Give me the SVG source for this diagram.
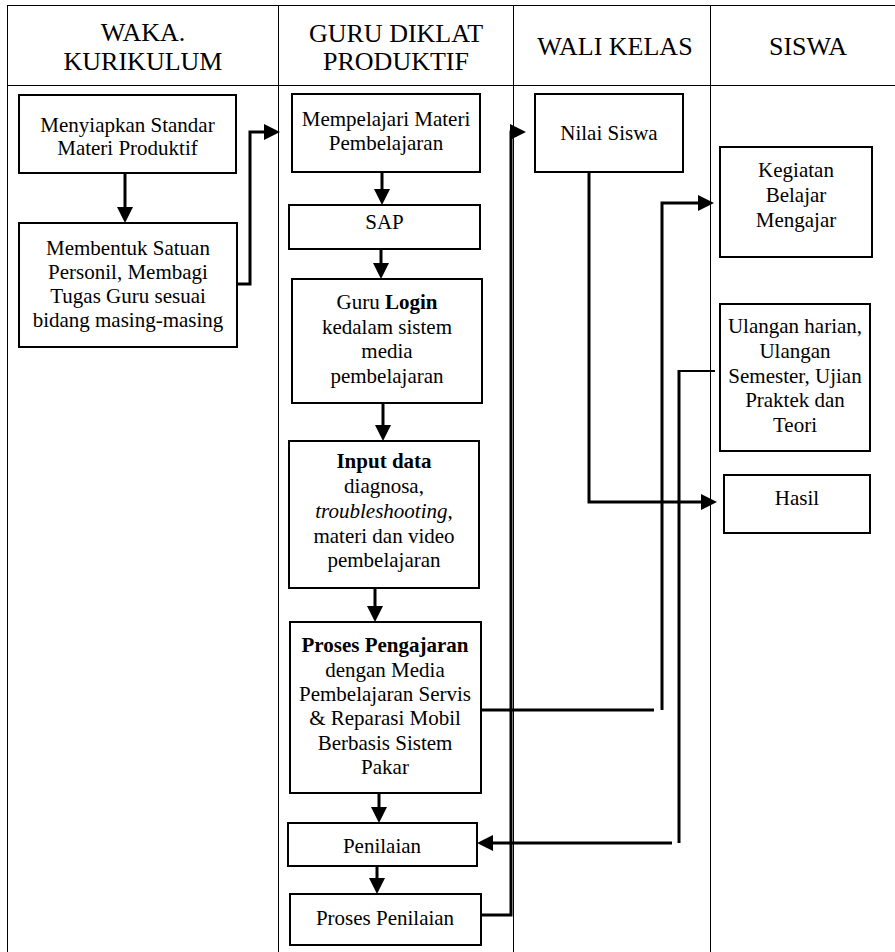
<svg xmlns="http://www.w3.org/2000/svg" width="895" height="952" viewBox="0 0 895 952">
  <style>
    .grid { stroke: #000; stroke-width: 1; fill: none; }
    .box { fill: #fff; stroke: #000; stroke-width: 2; }
    .hd { font-family: "Liberation Serif", "Times New Roman", serif; font-size: 26px; fill: #000; text-anchor: middle; }
    .tx { font-family: "Liberation Serif", "Times New Roman", serif; font-size: 21px; fill: #000; text-anchor: middle; }
    .b { font-weight: bold; }
    .i { font-style: italic; }
    .con { fill: none; stroke: #000; stroke-width: 3; }
    .thin { stroke-width: 2.2; }
  </style>
  <defs>
    <marker id="arr" markerUnits="userSpaceOnUse" markerWidth="16" markerHeight="16" refX="6" refY="8" orient="auto">
      <path d="M0,0 L16,8 L0,16 Z" fill="#000"/>
    </marker>
  </defs>

  <!-- swimlane table -->
  <g id="table">
    <path class="grid" d="M7.5,5.5 H895 M7.5,85.5 H895 M7.5,5 V952 M278.5,5 V952 M513.5,5 V952 M710.5,5 V952"/>
    <text class="hd" x="143" y="41">WAKA.</text>
    <text class="hd" x="143" y="70">KURIKULUM</text>
    <text class="hd" x="396" y="42">GURU DIKLAT</text>
    <text class="hd" x="396" y="70">PRODUKTIF</text>
    <text class="hd" x="615" y="55">WALI KELAS</text>
    <text class="hd" x="808" y="55">SISWA</text>
  </g>

  <!-- connectors -->
  <g id="connectors">
    <path class="con" d="M125,173 V213" marker-end="url(#arr)"/>
    <path class="con" d="M237,284 H250 V132 H270" marker-end="url(#arr)"/>
    <path class="con" d="M382,172 V195" marker-end="url(#arr)"/>
    <path class="con" d="M381,249 V269" marker-end="url(#arr)"/>
    <path class="con" d="M383,403 V431" marker-end="url(#arr)"/>
    <path class="con" d="M375,588 V612" marker-end="url(#arr)"/>
    <path class="con" d="M379,793 V813" marker-end="url(#arr)"/>
    <path class="con" d="M377,866 V884" marker-end="url(#arr)"/>
    <path class="con" d="M481,915 H511 V132 H516" marker-end="url(#arr)"/>
    <path class="con" d="M589,172 V502 H707" marker-end="url(#arr)"/>
    <path class="con" d="M481,710 H654"/>
    <path class="con" d="M662,710 V203 H704" marker-end="url(#arr)"/>
    <path class="con thin" d="M715,371 H679"/>
    <path class="con" d="M679,370 V843"/>
    <path class="con" d="M672,843 H487" marker-end="url(#arr)"/>
  </g>

  <!-- WAKA. KURIKULUM lane -->
  <g id="n-standar">
    <rect class="box" x="19" y="95" width="217" height="78"/>
    <text class="tx" x="127.5" y="132">Menyiapkan Standar</text>
    <text class="tx" x="127.5" y="155">Materi Produktif</text>
  </g>
  <g id="n-satuan">
    <rect class="box" x="19" y="223" width="218" height="124"/>
    <text class="tx" x="128" y="255">Membentuk Satuan</text>
    <text class="tx" x="128" y="279">Personil, Membagi</text>
    <text class="tx" x="128" y="303">Tugas Guru sesuai</text>
    <text class="tx" x="128" y="327">bidang masing-masing</text>
  </g>

  <!-- GURU DIKLAT PRODUKTIF lane -->
  <g id="n-mempelajari">
    <rect class="box" x="292" y="94" width="188" height="78"/>
    <text class="tx" x="386" y="126">Mempelajari Materi</text>
    <text class="tx" x="386" y="150">Pembelajaran</text>
  </g>
  <g id="n-sap">
    <rect class="box" x="289" y="205" width="191" height="44"/>
    <text class="tx" x="384.5" y="229">SAP</text>
  </g>
  <g id="n-login">
    <rect class="box" x="292" y="279" width="190" height="124"/>
    <text class="tx" x="387" y="309">Guru <tspan class="b">Login</tspan></text>
    <text class="tx" x="387" y="334">kedalam sistem</text>
    <text class="tx" x="387" y="358">media</text>
    <text class="tx" x="387" y="383">pembelajaran</text>
  </g>
  <g id="n-input">
    <rect class="box" x="289" y="441" width="190" height="147"/>
    <text class="tx b" x="384" y="468">Input data</text>
    <text class="tx" x="384" y="493">diagnosa,</text>
    <text class="tx" x="384" y="518"><tspan class="i">troubleshooting</tspan>,</text>
    <text class="tx" x="384" y="543">materi dan video</text>
    <text class="tx" x="384" y="567">pembelajaran</text>
  </g>
  <g id="n-pengajaran">
    <rect class="box" x="290" y="622" width="191" height="171"/>
    <text class="tx b" x="385" y="652">Proses Pengajaran</text>
    <text class="tx" x="385" y="677">dengan Media</text>
    <text class="tx" x="385" y="701">Pembelajaran Servis</text>
    <text class="tx" x="385" y="725">&amp; Reparasi Mobil</text>
    <text class="tx" x="385" y="750">Berbasis Sistem</text>
    <text class="tx" x="385" y="774">Pakar</text>
  </g>
  <g id="n-penilaian">
    <rect class="box" x="288" y="823" width="189" height="43"/>
    <text class="tx" x="382" y="853">Penilaian</text>
  </g>
  <g id="n-proses-penilaian">
    <rect class="box" x="290" y="894" width="191" height="51"/>
    <text class="tx" x="385" y="925">Proses Penilaian</text>
  </g>

  <!-- WALI KELAS lane -->
  <g id="n-nilai">
    <rect class="box" x="535" y="94" width="148" height="78"/>
    <text class="tx" x="609" y="140">Nilai Siswa</text>
  </g>

  <!-- SISWA lane -->
  <g id="n-kbm">
    <rect class="box" x="720" y="147" width="152" height="110"/>
    <text class="tx" x="796" y="177">Kegiatan</text>
    <text class="tx" x="796" y="202">Belajar</text>
    <text class="tx" x="796" y="227">Mengajar</text>
  </g>
  <g id="n-ulangan">
    <rect class="box" x="720" y="304" width="150" height="147"/>
    <text class="tx" x="795" y="333">Ulangan harian,</text>
    <text class="tx" x="795" y="358">Ulangan</text>
    <text class="tx" x="795" y="383">Semester, Ujian</text>
    <text class="tx" x="795" y="407">Praktek dan</text>
    <text class="tx" x="795" y="432">Teori</text>
  </g>
  <g id="n-hasil">
    <rect class="box" x="724" y="475" width="146" height="58"/>
    <text class="tx" x="797" y="505">Hasil</text>
  </g>
</svg>
